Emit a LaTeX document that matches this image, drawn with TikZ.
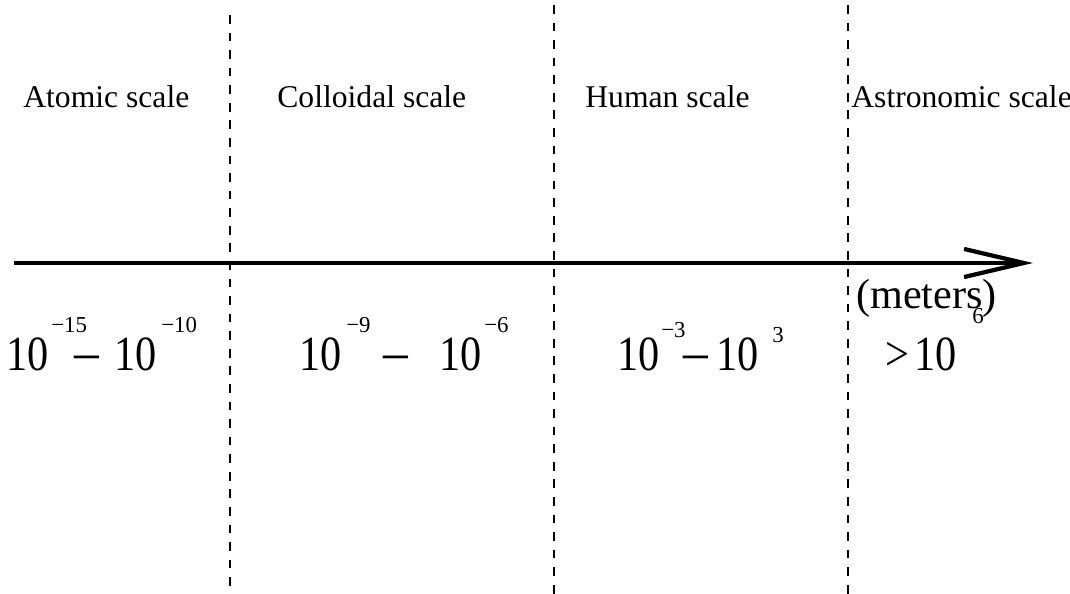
\documentclass[tikz,border=0pt]{standalone}
\usepackage{fontspec}
\setmainfont{Liberation Serif}
\newfontfamily\narrowfont[FakeStretch=0.86]{Liberation Serif}
\usetikzlibrary{arrows.meta,positioning}

\begin{document}
\begin{tikzpicture}[
    x=0.02cm, y=-0.02cm,
    scalelabel/.style={anchor=base west, inner sep=0pt, font=\fontsize{18}{20}\selectfont},
    bignum/.style={anchor=base west, inner sep=0pt, font=\narrowfont\fontsize{28}{30}\selectfont},
    expo/.style={anchor=base west, inner sep=0pt, font=\fontsize{13}{15}\selectfont},
    bigminus/.style={anchor=base west, inner sep=0pt, font=\fontsize{31}{33}\selectfont},
    divider/.style={line width=0.9pt, dash pattern=on 5pt off 5pt},
    axis/.style={line width=2.8pt, -{Straight Barb[length=34pt, width=16pt, line width=2.4pt]}}
]
\useasboundingbox (0,0) rectangle (1070,594);
\clip (0,0) rectangle (1070,594);

% dividers between the scales
\coordinate (div1top) at (230,15);
\coordinate (div1bot) at (230,594);
\coordinate (div2top) at (554,5);
\coordinate (div2bot) at (554,594);
\coordinate (div3top) at (848,5);
\coordinate (div3bot) at (848,594);
\foreach \d in {div1,div2,div3}
    \draw[divider] (\d top) -- (\d bot);

% length axis
\coordinate (axisstart) at (14,263);
\coordinate (axisend) at (1033,263);
\draw[axis] (axisstart) -- (axisend);

% names of the scales
\node[scalelabel] (atomic) at (23,108) {Atomic scale};
\node[scalelabel] (colloidal) at (277,108) {Colloidal scale};
\node[scalelabel] (human) at (585,108) {Human scale};
\node[scalelabel] (astronomic) at (851,108) {Astronomic scale};

% ranges
\node[bignum] (atomicfrom) at (6,370) {10};
\node[expo] (atomicfromexp) at (51,332) {−15};
\node[bigminus] (atomicdash) at (71,375) {−};
\node[bignum] (atomicto) at (114,370) {10};
\node[expo] (atomictoexp) at (161,332) {−10};

\node[bignum] (colloidalfrom) at (299,370) {10};
\node[expo] (colloidalfromexp) at (346,332) {−9};
\node[bigminus] (colloidaldash) at (380,375) {−};
\node[bignum] (colloidalto) at (439,370) {10};
\node[expo] (colloidaltoexp) at (484,332) {−6};

\node[bignum] (humanfrom) at (617,370) {10};
\node[expo] (humanfromexp) at (661,337) {−3};
\node[bigminus] (humandash) at (680,375) {−};
\node[bignum] (humanto) at (716,370) {10};
\node[expo] (humantoexp) at (772,342) {3};

\node[anchor=base west, inner sep=0pt, font=\fontsize{24}{26}\selectfont] (meters) at (856,308) {(meters)};
\node[expo] (astroexp) at (972,323) {6};
\node[bignum] (astrofrom) at (885,370) {>\hspace{3pt}10};

\end{tikzpicture}
\end{document}
